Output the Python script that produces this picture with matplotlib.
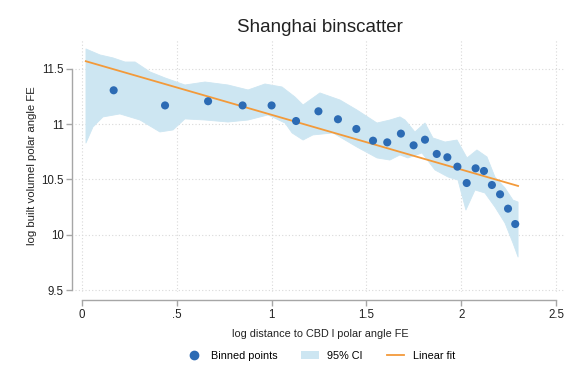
import numpy as np
import matplotlib
matplotlib.use("Agg")
import matplotlib.pyplot as plt
from matplotlib.patches import Patch
from matplotlib.lines import Line2D

plt.rcParams['font.family'] = ['Liberation Sans', 'DejaVu Sans']

# Binned means
bin_x = [0.167, 0.438, 0.665, 0.847, 1.000, 1.129, 1.247, 1.350, 1.447, 1.535,
         1.610, 1.682, 1.749, 1.809, 1.871, 1.927, 1.980, 2.029, 2.076, 2.120,
         2.162, 2.205, 2.247, 2.285]
bin_y = [11.307, 11.170, 11.208, 11.170, 11.170, 11.029, 11.117, 11.045, 10.957, 10.851,
         10.836, 10.915, 10.809, 10.860, 10.731, 10.701, 10.616, 10.468, 10.601, 10.577,
         10.450, 10.366, 10.236, 10.097]

# 95% confidence band edges
ci_upper_x = [0.021, 0.095, 0.164, 0.227, 0.280, 0.359, 0.438, 0.543, 0.649, 0.770,
              0.876, 0.965, 1.055, 1.123, 1.166, 1.255, 1.361, 1.450, 1.556, 1.624,
              1.677, 1.704, 1.756, 1.809, 1.851, 1.915, 1.978, 2.031, 2.083, 2.136,
              2.178, 2.231, 2.273, 2.300]
ci_upper_y = [11.681, 11.627, 11.600, 11.563, 11.563, 11.473, 11.419, 11.355, 11.382, 11.355,
              11.310, 11.364, 11.337, 11.247, 11.174, 11.283, 11.219, 11.129, 11.011, 11.038,
              11.066, 11.038, 10.930, 11.011, 10.876, 10.839, 10.857, 10.695, 10.767, 10.704,
              10.523, 10.423, 10.314, 10.296]
ci_lower_x = [0.021, 0.058, 0.111, 0.200, 0.306, 0.411, 0.480, 0.543, 0.649, 0.770,
              0.876, 0.981, 1.071, 1.108, 1.166, 1.218, 1.324, 1.450, 1.556, 1.624,
              1.677, 1.719, 1.793, 1.862, 1.930, 1.983, 2.025, 2.073, 2.125, 2.178,
              2.231, 2.273, 2.300]
ci_lower_y = [10.830, 10.975, 11.066, 11.093, 11.038, 10.930, 10.948, 11.048, 11.038, 11.020,
              11.038, 11.084, 11.011, 10.921, 10.857, 10.903, 10.921, 10.794, 10.695, 10.676,
              10.722, 10.695, 10.740, 10.586, 10.523, 10.495, 10.224, 10.405, 10.378, 10.251,
              10.106, 9.925, 9.799]

# Linear fit
fit_intercept = 11.58
fit_slope = -0.495
fit_range = [0.02, 2.30]

x_ticks = [0, 0.5, 1, 1.5, 2, 2.5]
x_tick_labels = ["0", ".5", "1", "1.5", "2", "2.5"]
y_ticks = [9.5, 10, 10.5, 11, 11.5]
y_tick_labels = ["9.5", "10", "10.5", "11", "11.5"]

point_color = "#2c6bb4"
band_color = "#cde6f2"
line_color = "#f39a3a"
axis_gray = "#a6a6a6"
text_color = "#222222"

fig = plt.figure(figsize=(5.71, 3.82), dpi=100)
ax = fig.add_axes([75 / 571, 90 / 382, 490 / 571, 252 / 382])
ax.set_xlim(-0.0369, 2.5475)
ax.set_ylim(9.482, 11.762)

# dotted grid at the tick positions
for xv in x_ticks:
    ax.axvline(xv, color="#d9d9d9", lw=0.8, ls=(0, (1, 2)), zorder=0)
for yv in y_ticks:
    ax.axhline(yv, color="#d9d9d9", lw=0.8, ls=(0, (1, 2)), zorder=0)

# confidence band
poly_x = np.concatenate([ci_upper_x, ci_lower_x[::-1]])
poly_y = np.concatenate([ci_upper_y, ci_lower_y[::-1]])
ax.fill(poly_x, poly_y, color=band_color, lw=0.6, ec=band_color,
        joinstyle="round", zorder=1)

# fit line
fx = np.array(fit_range)
ax.plot(fx, fit_intercept + fit_slope * fx, color=line_color, lw=1.3, zorder=3)

# binned points
ax.scatter(bin_x, bin_y, s=34, color=point_color, edgecolors="none", zorder=4)

# spines and ticks
for s in ["top", "right"]:
    ax.spines[s].set_visible(False)
ax.spines["left"].set_position(("outward", 2))
ax.spines["bottom"].set_position(("outward", 6))
ax.spines["left"].set_bounds(9.5, 11.5)
ax.spines["bottom"].set_bounds(0, 2.5)
for s in ["left", "bottom"]:
    ax.spines[s].set_color(axis_gray)
    ax.spines[s].set_linewidth(1.0)

ax.set_xticks(x_ticks)
ax.set_xticklabels(x_tick_labels)
ax.set_yticks(y_ticks)
ax.set_yticklabels(y_tick_labels)
ax.tick_params(axis="both", colors=axis_gray, labelcolor=text_color,
               labelsize=8.3, length=4, width=1.0, pad=2)

ax.set_xlabel("log distance to CBD l polar angle FE", fontsize=7.8,
              color=text_color, labelpad=6)
ax.set_ylabel("log built volumel polar angle FE", fontsize=8.2,
              color=text_color, labelpad=3)

fig.text(320 / 571, 1 - 27 / 382, "Shanghai binscatter", ha="center",
         va="center", fontsize=13.5, color=text_color)

handles = [
    Line2D([], [], marker="o", ls="none", color=point_color, markersize=6),
    Patch(facecolor=band_color, edgecolor="none"),
    Line2D([], [], color=line_color, lw=1.3),
]
fig.legend(handles, ["Binned points", "95% CI", "Linear fit"], ncol=3,
           loc="center", bbox_to_anchor=(320 / 571, 1 - 356 / 382),
           frameon=False, fontsize=7.8, handlelength=1.6, columnspacing=2.2,
           handletextpad=0.8)

fig.savefig("out.png", dpi=100)
